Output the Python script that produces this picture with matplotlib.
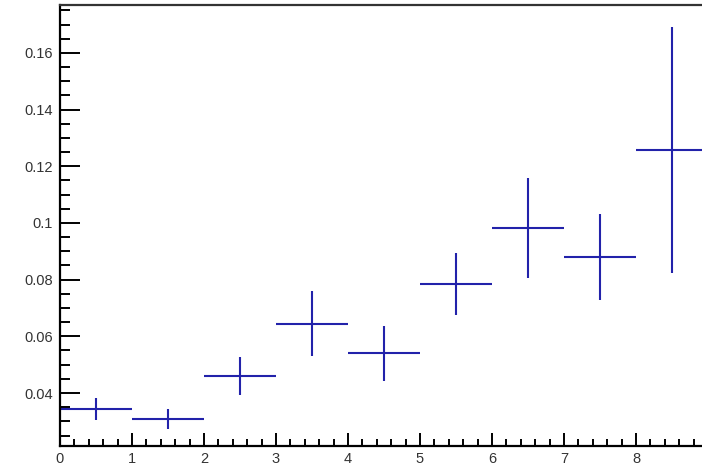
import matplotlib
matplotlib.use('Agg')
import matplotlib.pyplot as plt
from matplotlib.ticker import MultipleLocator

# bin centres, contents and errors
bin_centers = [0.5, 1.5, 2.5, 3.5, 4.5, 5.5, 6.5, 7.5, 8.5]
bin_half_width = [0.5] * 9
values = [0.0344, 0.0308, 0.0460, 0.0644, 0.0541, 0.0785, 0.0982, 0.0880, 0.1258]
errors = [0.0039, 0.0035, 0.0067, 0.0115, 0.0097, 0.0110, 0.0178, 0.0152, 0.0434]

y_ticks = [0.04, 0.06, 0.08, 0.1, 0.12, 0.14, 0.16]
y_tick_labels = ['0.04', '0.06', '0.08', '0.1', '0.12', '0.14', '0.16']
x_ticks = [0, 1, 2, 3, 4, 5, 6, 7, 8, 9]

plt.rcParams['font.family'] = ['Liberation Sans', 'DejaVu Sans']

fig = plt.figure(figsize=(7.02, 4.66), dpi=100)
ax = fig.add_axes([60 / 702, 20 / 466, 648 / 702, 441 / 466])

ax.errorbar(bin_centers, values, xerr=bin_half_width, yerr=errors,
            fmt='none', ecolor='#2222aa', elinewidth=1.5, capsize=0)

ax.set_xlim(0, 9)
ax.set_ylim(0.0213, 0.1769)

ax.set_xticks(x_ticks)
ax.set_xticklabels([str(t) for t in x_ticks])
ax.xaxis.set_minor_locator(MultipleLocator(0.2))
ax.set_yticks(y_ticks)
ax.set_yticklabels(y_tick_labels)
ax.yaxis.set_minor_locator(MultipleLocator(0.005))

ax.tick_params(axis='y', which='major', direction='in', length=14.4, width=1.4,
               labelsize=10.5, pad=5, labelcolor='#333333')
ax.tick_params(axis='y', which='minor', direction='in', length=7.2, width=1.4)
ax.tick_params(axis='x', which='major', direction='in', length=9.4, width=1.4,
               labelsize=10.5, pad=4, labelcolor='#333333')
ax.tick_params(axis='x', which='minor', direction='in', length=5, width=1.4)

ax.spines['left'].set_linewidth(1.6)
ax.spines['bottom'].set_linewidth(1.6)
ax.spines['top'].set_linewidth(1.6)
ax.spines['top'].set_color('#333333')
ax.spines['right'].set_visible(False)

plt.savefig('out.png', dpi=100)
